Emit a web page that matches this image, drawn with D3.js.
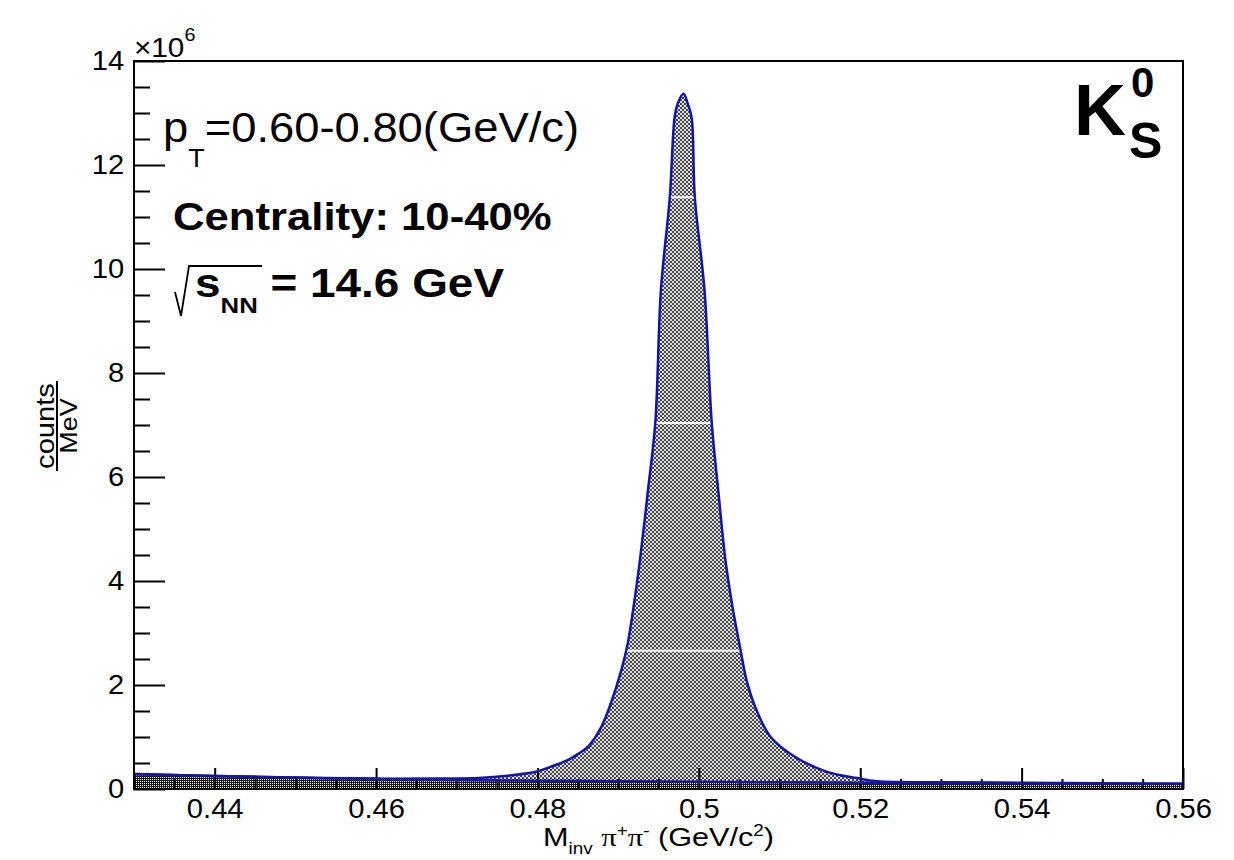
<!DOCTYPE html>
<html>
<head>
<meta charset="utf-8">
<script src="https://cdn.jsdelivr.net/npm/d3@7"></script>
<style>
body { margin: 0; background: #fff; }
text { font-family: "Liberation Sans", Arial, Helvetica, sans-serif; fill: #000; }
</style>
</head>
<body>
<div id="chart"></div>
<script>
// values, y in units of 10^6 counts/MeV
var massPoints = [0.4300, 0.4400, 0.4500, 0.4600, 0.4680, 0.4727, 0.4766, 0.4798, 0.4817, 0.4838,
	0.4850, 0.4863, 0.4879, 0.4891, 0.4904, 0.4912, 0.4920, 0.4927, 0.4937, 0.4946, 0.4953,
	0.4964, 0.4970, 0.4974, 0.4981, 0.4986, 0.4991, 0.4995, 0.5007, 0.5016, 0.5024,
	0.5033, 0.5041, 0.5051, 0.5060, 0.5073, 0.5089, 0.5119, 0.5159, 0.5196, 0.5221,
	0.5300, 0.5400, 0.5500, 0.5600];
var totalCounts = [0.29, 0.25, 0.22, 0.20, 0.20, 0.21, 0.26, 0.33, 0.43, 0.56,
	0.67, 0.82, 1.19, 1.65, 2.29, 2.81, 3.60, 4.40, 5.75, 7.04, 9.60,
	11.38, 12.92, 13.19, 13.37, 13.19, 12.92, 11.38, 9.60, 7.04, 5.75,
	4.40, 3.57, 2.73, 2.04, 1.46, 1.00, 0.62, 0.33, 0.21, 0.15,
	0.13, 0.12, 0.11, 0.10];
var bgMass = [0.43, 0.44, 0.45, 0.46, 0.47, 0.48, 0.49, 0.50, 0.51, 0.52, 0.53, 0.54, 0.55, 0.56];
var bgCounts = [0.29, 0.25, 0.22, 0.19, 0.175, 0.16, 0.15, 0.14, 0.13, 0.12, 0.115, 0.11, 0.105, 0.10];
var fillGapLevels = [11.38, 7.04, 2.66];

var xMajorTicks = [0.44, 0.46, 0.48, 0.5, 0.52, 0.54, 0.56];
var xTickLabels = ['0.44', '0.46', '0.48', '0.5', '0.52', '0.54', '0.56'];
var yMajorTicks = [0, 2, 4, 6, 8, 10, 12, 14];
var yTickLabels = ['0', '2', '4', '6', '8', '10', '12', '14'];

// set dimensions
var svgWidth = 1234;
var svgHeight = 860;
var margins = { top: 61, right: 51, bottom: 71, left: 134 };
var width = svgWidth - margins.left - margins.right;
var height = svgHeight - margins.top - margins.bottom;
var SX = 1.1; // text looks a bit wider than Liberation Sans
var lineBlue = '#1414a8';

var svg = d3.select('#chart').append('svg')
	.attr('width', svgWidth).attr('height', svgHeight)
	.style('display', 'block');
svg.append('rect').attr('width', svgWidth).attr('height', svgHeight).attr('fill', '#fff');

var defs = svg.append('defs');
var pat = defs.append('pattern').attr('id', 'sigFill')
	.attr('patternUnits', 'userSpaceOnUse').attr('width', 4).attr('height', 4);
pat.append('rect').attr('width', 4).attr('height', 4).attr('fill', '#dedede');
pat.append('rect').attr('width', 2).attr('height', 2).attr('fill', '#474747');
pat.append('rect').attr('x', 2).attr('y', 2).attr('width', 2).attr('height', 2).attr('fill', '#474747');

var pat2 = defs.append('pattern').attr('id', 'bgFill')
	.attr('patternUnits', 'userSpaceOnUse').attr('width', 2).attr('height', 2);
pat2.append('rect').attr('width', 2).attr('height', 2).attr('fill', '#1c1c1c');
pat2.append('rect').attr('width', 1).attr('height', 1).attr('fill', '#eeeeee');

var chart = svg.append('g').attr('transform', `translate(${margins.left}, ${margins.top})`);

var x = d3.scaleLinear().domain([0.43, 0.56]).range([0, width]);
var y = d3.scaleLinear().domain([0, 14]).range([height, 0]);

var total = massPoints.map((m, i) => [m, totalCounts[i]]);
var bg = bgMass.map((m, i) => [m, bgCounts[i]]);

var smooth = d3.curveCatmullRom.alpha(0.5);
var area = d3.area()
	.x(d => x(d[0]))
	.y0(height)
	.y1(d => y(d[1]))
	.curve(smooth);
var line = d3.line()
	.x(d => x(d[0]))
	.y(d => y(d[1]))
	.curve(smooth);

// filled areas
chart.append('path').attr('d', area(total)).attr('fill', 'url(#sigFill)');
chart.append('path').attr('d', area(bg)).attr('fill', 'url(#bgFill)');

// white streaks inside the peak fill
defs.append('clipPath').attr('id', 'peakClip')
	.append('path').attr('d', area(total));
chart.append('g').attr('clip-path', 'url(#peakClip)')
	.selectAll('line')
	.data(fillGapLevels)
	.enter()
	.append('line')
	.attr('x1', 0).attr('x2', width)
	.attr('y1', d => y(d)).attr('y2', d => y(d))
	.attr('stroke', '#fff').attr('stroke-width', 2);

// axes
var xMinor = d3.range(0.43, 0.5601, 0.005).filter(v => !xMajorTicks.some(t => Math.abs(t - v) < 1e-6));
var yMinor = d3.range(0, 14.01, 0.5).filter(v => v % 2 !== 0);

function styleAxis(g) {
	g.select('.domain').remove();
	g.selectAll('line').attr('stroke', '#000').attr('stroke-width', 2);
}

chart.append('g')
	.attr('transform', `translate(0, ${height})`)
	.call(d3.axisBottom(x).tickValues(xMinor).tickSize(-10).tickFormat(''))
	.call(styleAxis);
var xAxisG = chart.append('g')
	.attr('transform', `translate(0, ${height})`)
	.call(d3.axisBottom(x).tickValues(xMajorTicks).tickSize(-21).tickPadding(10)
		.tickFormat((d, i) => xTickLabels[i]))
	.call(styleAxis);
xAxisG.selectAll('text')
	.attr('font-family', '"Liberation Sans", Arial, sans-serif')
	.attr('font-size', 27)
	.attr('transform', 'scale(1.08,1)');

chart.append('g')
	.call(d3.axisLeft(y).tickValues(yMinor).tickSize(-16).tickFormat(''))
	.call(styleAxis);
var yAxisG = chart.append('g')
	.call(d3.axisLeft(y).tickValues(yMajorTicks).tickSize(-31).tickPadding(9)
		.tickFormat((d, i) => yTickLabels[i]))
	.call(styleAxis);
yAxisG.selectAll('text')
	.attr('font-family', '"Liberation Sans", Arial, sans-serif')
	.attr('font-size', 27)
	.attr('transform', 'scale(1.08,1)');

// fit curves
chart.append('path').attr('d', line(bg))
	.attr('fill', 'none').attr('stroke', lineBlue).attr('stroke-width', 2.5);
chart.append('path').attr('d', line(total))
	.attr('fill', 'none').attr('stroke', lineBlue).attr('stroke-width', 2.5)
	.attr('stroke-linejoin', 'round');

// frame
chart.append('rect')
	.attr('width', width).attr('height', height)
	.attr('fill', 'none').attr('stroke', '#000').attr('stroke-width', 2);

// exponent label
var expo = svg.append('text')
	.attr('transform', `translate(134, 57) scale(${SX},1)`)
	.attr('font-size', 27);
expo.append('tspan').text('×10');
expo.append('tspan').attr('font-size', 18).attr('dy', -16).text('6');

// axis titles
var xTitle = svg.append('text')
	.attr('transform', `translate(${margins.left + width / 2}, 846) scale(1.18,1)`)
	.attr('text-anchor', 'middle')
	.attr('font-size', 26);
xTitle.append('tspan').text('M');
xTitle.append('tspan').attr('font-size', 16).attr('dy', 8).text('inv');
xTitle.append('tspan').attr('dy', -8).text(' ');
xTitle.append('tspan').attr('font-family', '"Liberation Serif", serif').text('π');
xTitle.append('tspan').attr('font-size', 16).attr('dy', -10).text('+');
xTitle.append('tspan').attr('dy', 10).attr('font-family', '"Liberation Serif", serif').text('π');
xTitle.append('tspan').attr('font-size', 16).attr('dy', -10).text('-');
xTitle.append('tspan').attr('dy', 10).text(' (GeV/c');
xTitle.append('tspan').attr('font-size', 16).attr('dy', -10).text('2');
xTitle.append('tspan').attr('dy', 10).text(')');

var yTitle = svg.append('g').attr('transform', 'translate(57, 426) rotate(-90)');
yTitle.append('text')
	.attr('transform', 'translate(0, -3) scale(1.12,1)')
	.attr('text-anchor', 'middle').attr('font-size', 26).text('counts');
yTitle.append('line')
	.attr('x1', -45).attr('x2', 45).attr('y1', 0).attr('y2', 0)
	.attr('stroke', '#000').attr('stroke-width', 2);
yTitle.append('text')
	.attr('transform', 'translate(0, 20) scale(1.12,1)')
	.attr('text-anchor', 'middle').attr('font-size', 24).text('MeV');

// annotations
var pt = svg.append('text')
	.attr('transform', 'translate(163, 142) scale(1.08,1)')
	.attr('font-size', 42);
pt.append('tspan').text('p');
pt.append('tspan').attr('font-size', 25).attr('dy', 25).text('T');
pt.append('tspan').attr('dy', -25).text('=0.60-0.80(GeV/c)');

svg.append('text')
	.attr('transform', 'translate(173, 230) scale(1.12,1)')
	.attr('font-size', 39).attr('font-weight', 'bold')
	.text('Centrality: 10-40%');

svg.append('path')
	.attr('d', 'M175,292 L181,316 L189,266 L262,266')
	.attr('fill', 'none').attr('stroke', '#000').attr('stroke-width', 1.8);
var sq = svg.append('text')
	.attr('transform', 'translate(195, 297) scale(1.12,1)')
	.attr('font-size', 41).attr('font-weight', 'bold');
sq.append('tspan').text('s');
sq.append('tspan').attr('font-size', 23).attr('dy', 16).text('NN');
sq.append('tspan').attr('dy', -16).text(' = 14.6 GeV');

var k0 = svg.append('g').attr('font-weight', 'bold');
k0.append('text').attr('x', 1074).attr('y', 135).attr('font-size', 72).text('K');
k0.append('text').attr('x', 1131).attr('y', 97).attr('font-size', 42).text('0');
k0.append('text').attr('x', 1129).attr('y', 158).attr('font-size', 50).text('S');
</script>
</body>
</html>
